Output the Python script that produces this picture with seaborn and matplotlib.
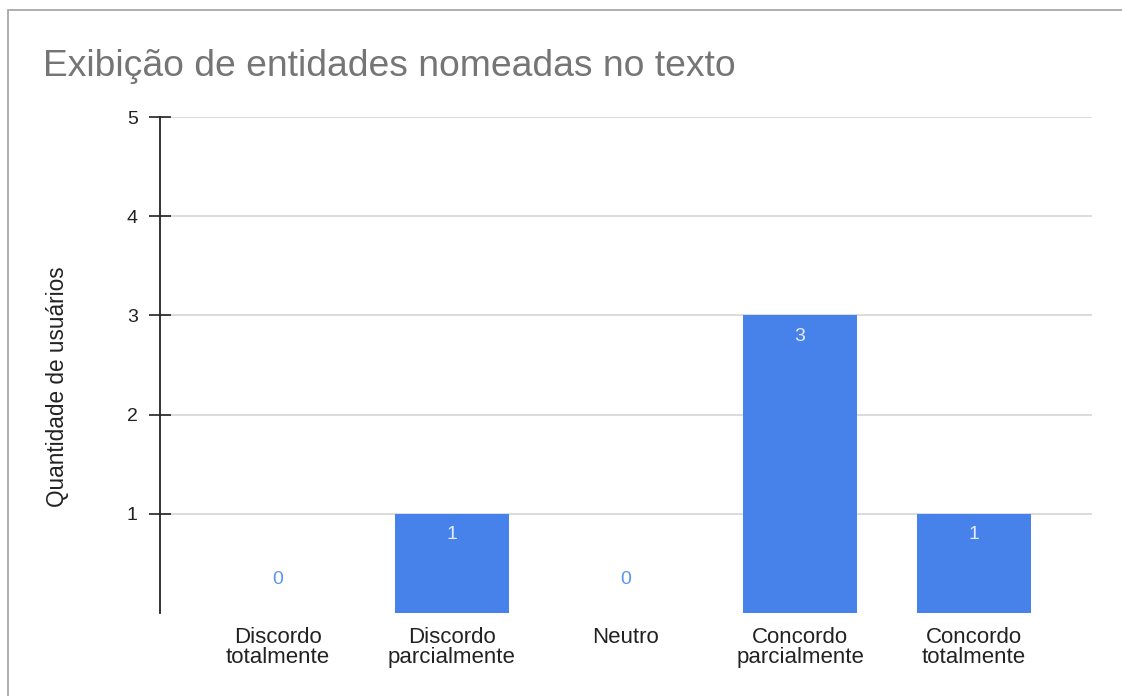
import matplotlib
matplotlib.use("Agg")
import matplotlib.pyplot as plt
import seaborn as sns
import pandas as pd
from matplotlib.patches import Rectangle

categories = ["Discordo\ntotalmente", "Discordo\nparcialmente", "Neutro",
              "Concordo\nparcialmente", "Concordo\ntotalmente"]
counts = [0, 1, 0, 3, 1]
yticks = [1, 2, 3, 4, 5]

title = "Exibição de entidades nomeadas no texto"
ylabel = "Quantidade de usuários"

sns.set_theme(style="white")
plt.rcParams["font.family"] = ["Liberation Sans", "DejaVu Sans"]

W, H = 1122, 696
fig = plt.figure(figsize=(W / 100, H / 100), dpi=100)
ax = fig.add_axes([160 / W, 1 - 613 / H, (1092 - 160) / W, (613 - 117) / H])

df = pd.DataFrame({"cat": categories, "n": counts})
bar_color = "#4682ea"
sns.barplot(data=df, x="cat", y="n", color=bar_color, width=0.65,
            saturation=1, ax=ax, zorder=3)
for p in ax.patches:
    p.set_edgecolor("none")

ax.set_xlim(-0.678, 4.678)
ax.set_ylim(0, 5)
ax.set_yticks(yticks)
ax.set_yticklabels([str(t) for t in yticks], fontsize=14, color="#222222")
ax.yaxis.grid(True, color="#d6d6d6", linewidth=1.2, zorder=0)
ax.xaxis.grid(False)
ax.tick_params(axis="y", which="major", direction="inout", length=16,
               width=1.2, color="#222222", pad=8, left=True)
ax.tick_params(axis="x", length=0, pad=10, labelsize=16, labelcolor="#222222")
for lbl in ax.get_xticklabels():
    lbl.set_linespacing(0.95)

for side in ["top", "right", "bottom"]:
    ax.spines[side].set_visible(False)
ax.spines["left"].set_color("#222222")
ax.spines["left"].set_linewidth(1.3)

ax.set_xlabel("")
ax.set_ylabel(ylabel, fontsize=16.3, color="#222222")
ax.yaxis.set_label_coords(-91 / (1092 - 160), (613 - 387) / (613 - 117))

# value labels: inside the top of non-zero bars, above the baseline for zeros
for i, v in enumerate(counts):
    if v > 0:
        ax.annotate(str(v), (i, v), xytext=(0, -15), textcoords="offset points",
                    ha="center", va="center", fontsize=14, color="#e4ecfb",
                    zorder=4)
    else:
        ax.annotate(str(v), (i, v), xytext=(0, 24), textcoords="offset points",
                    ha="center", va="center", fontsize=14, color="#5a95f5",
                    zorder=4)

fig.text(43 / W, 1 - 66 / H, title, fontsize=26.8, color="#757575",
         ha="left", va="center")

fig.patches.append(Rectangle((8 / W, -0.1), 1.2, 1 - 10 / H + 0.1,
                             transform=fig.transFigure, fill=False,
                             edgecolor="#a8a8a8", linewidth=1.3))

fig.savefig("out.png", dpi=100, facecolor="white")
